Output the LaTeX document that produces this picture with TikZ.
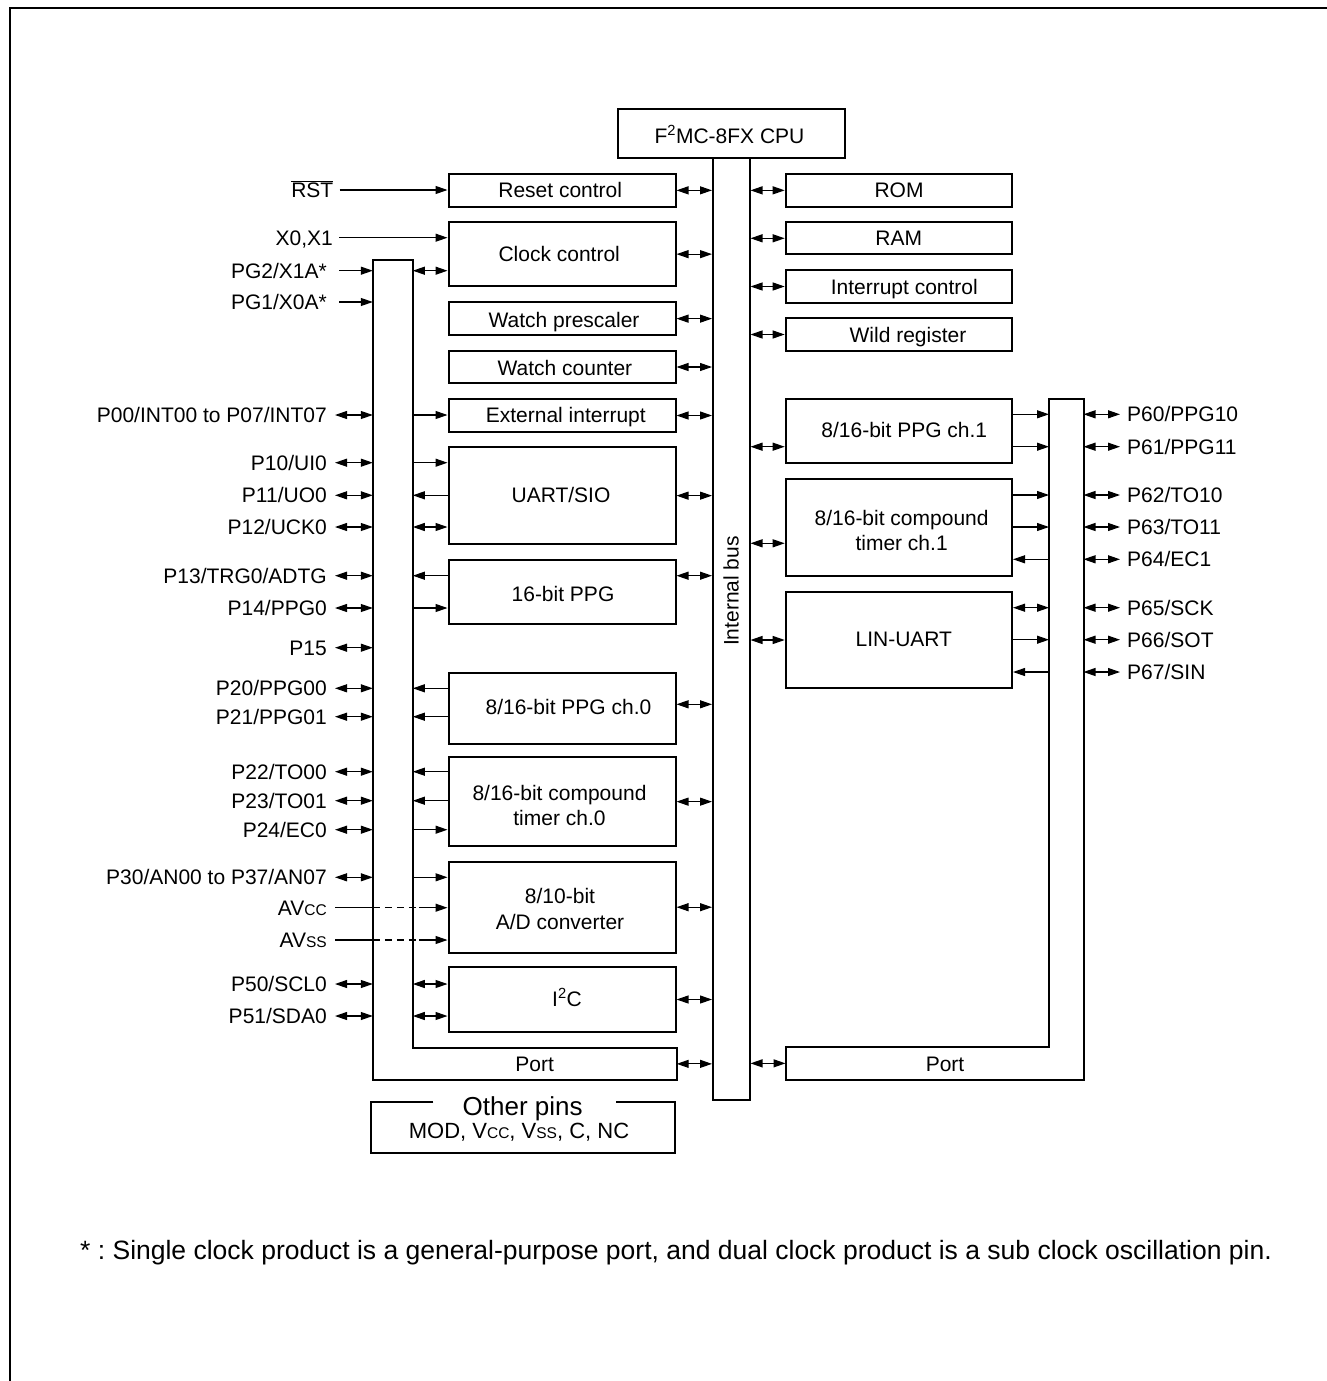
\documentclass[tikz,border=0pt]{standalone}
\usepackage{fontspec}
\setmainfont{Liberation Sans}
\usetikzlibrary{arrows.meta}
\newcommand\mkbox[6][blk]{\node[#1, minimum width={(#5)-(#3)}, minimum height={(#6)-(#4)}] (#2) at ({((#3)+(#5))/2},{((#4)+(#6))/2}) {};}
\newcommand\mysc{\fontsize{15.5}{16}\selectfont}
\begin{document}
\begin{tikzpicture}[x=1pt,y=-1pt,
  txt/.style={font=\fontsize{21}{25}\selectfont, inner sep=0pt, text height=15pt, text depth=0pt},
  blk/.style={draw, line width=2pt, inner sep=0pt},
  ghost/.style={inner sep=0pt, outer sep=0pt},
  lbl/.style={txt, anchor=east},
  rlbl/.style={txt, anchor=west},
  hd/.tip={Triangle[length=12pt,width=8pt]},
  ar/.style={line width=1.1pt, -hd},
  al/.style={line width=1.1pt, hd-},
  dar/.style={line width=1.1pt, hd-hd},
  portln/.style={line width=2pt}]
\useasboundingbox (0,0) rectangle (1327,1381);
% frame
\draw[line width=2pt] (10,1381) -- (10,8) -- (1327,8);
% CPU and bus
\mkbox{cpu}{618.4}{109.3}{845}{158.3}
\node[txt] (cpuT) at (729.5,136) {F\textsuperscript{2}MC-8FX CPU};
\mkbox{bus}{713}{158.3}{749.5}{1100}
\node[txt, rotate=90] (busT) at (731,591) {Internal bus};
% left boxes
\mkbox{reset}{448.5}{174}{675.5}{206.7}
\mkbox{clock}{448.5}{222.3}{675.5}{286}
\mkbox{wpre}{448.5}{302.3}{675.5}{335}
\mkbox{wcnt}{448.5}{350.7}{675.5}{383.3}
\mkbox{extint}{448.5}{399.3}{675.5}{431.7}
\mkbox{uart}{448.5}{447.3}{675.5}{544}
\mkbox{ppgs}{448.5}{560}{675.5}{624.3}
\mkbox{ppgz}{448.5}{672.7}{675.5}{744}
\mkbox{cptz}{448.5}{757.3}{675.5}{846}
\mkbox{adc}{448.5}{861.7}{675.5}{952.7}
\mkbox{iic}{448.5}{967.3}{675.5}{1031.7}
% right boxes
\mkbox{rom}{785.7}{174}{1012}{206.7}
\mkbox{ram}{785.7}{222.3}{1012}{254.3}
\mkbox{intc}{785.7}{270.3}{1012}{302.7}
\mkbox{wild}{785.7}{318.3}{1012}{350.7}
\mkbox{ppgo}{785.7}{399}{1012}{463.3}
\mkbox{cpto}{785.7}{479}{1012}{576}
\mkbox{lin}{785.7}{591.7}{1012}{688.3}
% ports
\mkbox[ghost]{lcol}{372.8}{260.3}{412.8}{1080}
\mkbox[ghost]{lport}{372.8}{1047.7}{676.7}{1080}
\mkbox[ghost]{rcol}{1049}{399}{1083.5}{1080}
\mkbox[ghost]{rport}{785.5}{1046.7}{1083.5}{1080}
\draw[portln] (lcol.north west) -- (lcol.north east) -- (lport.north west -| lcol.east) -- (lport.north east) -- (lport.south east) -- (lport.south west) -- cycle;
\draw[portln] (rcol.north west) -- (rcol.north east) -- (rport.south east) -- (rport.south west) -- (rport.north west) -- (rport.north east -| rcol.west) -- cycle;
\node[txt] (lportT) at (534.6,1064) {Port};
\node[txt] (rportT) at (945,1064) {Port};
% other pins
\mkbox[ghost]{oth}{370.6}{1102.3}{675.2}{1153.3}
\draw[portln] (433.4,1102.3) -- (oth.north west) -- (oth.south west) -- (oth.south east) -- (oth.north east) -- (615.5,1102.3);
\node[txt, font=\fontsize{26}{30}\selectfont, text height=18.6pt] (othT) at (522.7,1105.8) {Other pins};
\node[txt, font=\fontsize{22}{26}\selectfont, text height=15.8pt] (othM) at (519,1130.5) {MOD, V{\mysc CC}, V{\mysc SS}, C, NC};
% box texts
\node[txt] (resetT) at (560.2,190) {Reset control};
\node[txt] (clockT) at (559.2,254) {Clock control};
\node[txt] (wpreT) at (564,320) {Watch prescaler};
\node[txt] (wcntT) at (564.9,368.3) {Watch counter};
\node[txt] (extintT) at (565.8,415) {External interrupt};
\node[txt] (uartT) at (561,495) {UART/SIO};
\node[txt] (ppgsT) at (563,593.5) {16-bit PPG};
\node[txt] (ppgzT) at (568.5,706.7) {8/16-bit PPG ch.0};
\node[txt] (cptzA) at (559.5,792.5) {8/16-bit compound};
\node[txt] (cptzB) at (559.5,817.7) {timer ch.0};
\node[txt] (adcA) at (560,896) {8/10-bit};
\node[txt] (adcB) at (560,921.7) {A/D converter};
\node[txt] (iicT) at (567,999) {I\textsuperscript{2}C};
\node[txt] (romT) at (899,190) {ROM};
\node[txt] (ramT) at (898.8,238) {RAM};
\node[txt] (intcT) at (904.3,286.8) {Interrupt control};
\node[txt] (wildT) at (908,335) {Wild register};
\node[txt] (ppgoT) at (904.3,430) {8/16-bit PPG ch.1};
\node[txt] (cptoA) at (901.6,518.3) {8/16-bit compound};
\node[txt] (cptoB) at (901.6,543.3) {timer ch.1};
\node[txt] (linT) at (903.8,639.3) {LIN-UART};
% left labels
\node[lbl] (rst) at (333.5,190) {$\overline{\mbox{RST}}$};
\node[lbl] (xx) at (333,237.7) {X0,X1};
\node[lbl] (pgb) at (327,270.7) {PG2/X1A*};
\node[lbl] (pga) at (327,302) {PG1/X0A*};
\node[lbl] (p00) at (327,415) {P00/INT00 to P07/INT07};
\node[lbl] (p10) at (327,462.7) {P10/UI0};
\node[lbl] (p11) at (327,495.3) {P11/UO0};
\node[lbl] (p12) at (327,527) {P12/UCK0};
\node[lbl] (p13) at (327,575.7) {P13/TRG0/ADTG};
\node[lbl] (p14) at (327,608) {P14/PPG0};
\node[lbl] (p15) at (327,647.7) {P15};
\node[lbl] (p20) at (327,688.3) {P20/PPG00};
\node[lbl] (p21) at (327,716.7) {P21/PPG01};
\node[lbl] (p22) at (327,771.7) {P22/TO00};
\node[lbl] (p23) at (327,800.7) {P23/TO01};
\node[lbl] (p24) at (327,829.7) {P24/EC0};
\node[lbl] (p30) at (327,877.3) {P30/AN00 to P37/AN07};
\node[lbl] (avcc) at (327,907.7) {AV{\mysc CC}};
\node[lbl] (avss) at (327,940) {AV{\mysc SS}};
\node[lbl] (p50) at (327,984) {P50/SCL0};
\node[lbl] (p51) at (327,1016) {P51/SDA0};
% right labels
\node[rlbl] (q60) at (1127,414.3) {P60/PPG10};
\node[rlbl] (q61) at (1127,446.7) {P61/PPG11};
\node[rlbl] (q62) at (1127,495) {P62/TO10};
\node[rlbl] (q63) at (1127,527) {P63/TO11};
\node[rlbl] (q64) at (1127,559.3) {P64/EC1};
\node[rlbl] (q65) at (1127,607.7) {P65/SCK};
\node[rlbl] (q66) at (1127,639.7) {P66/SOT};
\node[rlbl] (q67) at (1127,672) {P67/SIN};
% footnote
\node[txt, anchor=west, font=\fontsize{26.5}{30}\selectfont, text height=19pt] (note) at (80,1249.5) {*\ :\ Single clock product is a general-purpose port, and dual clock product is a sub clock oscillation pin.};
% left outer arrows
\draw[ar] ([xshift=6pt]rst.east) -- (rst -| reset.west);
\draw[ar] ([xshift=6pt]xx.east) -- (xx -| clock.west);
\draw[ar] ([xshift=12pt]pgb.east) -- (pgb -| lcol.west);
\draw[ar] ([xshift=12pt]pga.east) -- (pga -| lcol.west);
\draw[dar] (pgb -| lcol.east) -- (pgb -| clock.west);
\foreach \p in {p00,p10,p11,p12,p13,p14,p15,p20,p21,p22,p23,p24,p30,p50,p51}
  \draw[dar] ([xshift=8pt]\p.east) -- (\p -| lcol.west);
% left inner arrows
\draw[ar] (p00 -| lcol.east) -- (p00 -| extint.west);
\draw[ar] (p10 -| lcol.east) -- (p10 -| uart.west);
\draw[al] (p11 -| lcol.east) -- (p11 -| uart.west);
\draw[dar] (p12 -| lcol.east) -- (p12 -| uart.west);
\draw[al] (p13 -| lcol.east) -- (p13 -| ppgs.west);
\draw[ar] (p14 -| lcol.east) -- (p14 -| ppgs.west);
\draw[al] (p20 -| lcol.east) -- (p20 -| ppgz.west);
\draw[al] (p21 -| lcol.east) -- (p21 -| ppgz.west);
\draw[al] (p22 -| lcol.east) -- (p22 -| cptz.west);
\draw[al] (p23 -| lcol.east) -- (p23 -| cptz.west);
\draw[ar] (p24 -| lcol.east) -- (p24 -| cptz.west);
\draw[ar] (p30 -| lcol.east) -- (p30 -| adc.west);
\draw[dar] (p50 -| lcol.east) -- (p50 -| iic.west);
\draw[dar] (p51 -| lcol.east) -- (p51 -| iic.west);
\foreach \a in {avcc,avss}{
  \draw[line width=1.1pt] ([xshift=8pt]\a.east) -- (\a -| lcol.west);
  \draw[line width=1.1pt, dash pattern=on 7pt off 5pt] (\a -| lcol.west) -- ([xshift=6pt]\a -| lcol.east);
  \draw[ar] ([xshift=6pt]\a -| lcol.east) -- (\a -| adc.west);
}
% bus arrows left
\foreach \b in {reset,clock,wpre,wcnt,extint,uart,cptz,adc,iic,lport}
  \draw[dar] (\b.east) -- (\b.east -| bus.west);
\draw[dar] ([yshift=-16.7pt]ppgs.north east) -- ([yshift=-16.7pt]ppgs.north east -| bus.west);
\draw[dar] ([yshift=-32.6pt]ppgz.north east) -- ([yshift=-32.6pt]ppgz.north east -| bus.west);
% bus arrows right
\foreach \b in {rom,ram,intc,wild,lin,rport}
  \draw[dar] (\b.west -| bus.east) -- (\b.west);
\draw[dar] ([yshift=17.6pt]ppgo.south west -| bus.east) -- ([yshift=17.6pt]ppgo.south west);
\draw[dar] ([yshift=33.7pt]cpto.south west -| bus.east) -- ([yshift=33.7pt]cpto.south west);
% right pin arrows
\foreach \q in {q60,q61,q62,q63,q64,q65,q66,q67}
  \draw[dar] (\q -| rcol.east) -- ([xshift=-7pt]\q.west);
% right inner arrows
\draw[ar] (q60 -| ppgo.east) -- (q60 -| rcol.west);
\draw[ar] (q61 -| ppgo.east) -- (q61 -| rcol.west);
\draw[ar] (q62 -| cpto.east) -- (q62 -| rcol.west);
\draw[ar] (q63 -| cpto.east) -- (q63 -| rcol.west);
\draw[al] (q64 -| cpto.east) -- (q64 -| rcol.west);
\draw[dar] (q65 -| lin.east) -- (q65 -| rcol.west);
\draw[ar] (q66 -| lin.east) -- (q66 -| rcol.west);
\draw[al] (q67 -| lin.east) -- (q67 -| rcol.west);
\end{tikzpicture}
\end{document}
